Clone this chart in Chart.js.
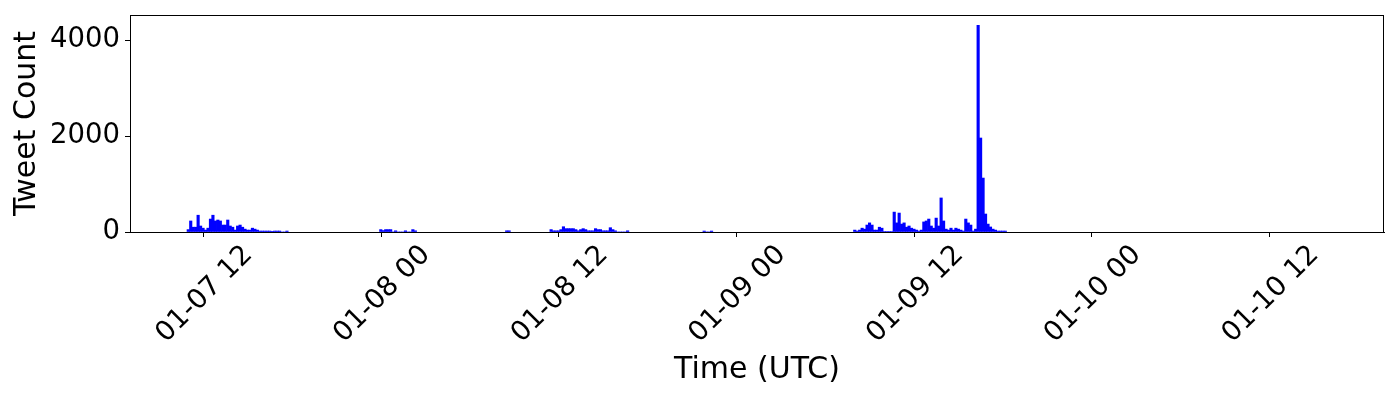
<!DOCTYPE html>
<html>
<head>
<meta charset="utf-8">
<script src="https://cdn.jsdelivr.net/npm/chart.js@4/dist/chart.umd.min.js"></script>
<style>
  body { margin: 0; background: #fff; }
  #wrap { width: 1400px; height: 400px; }
</style>
</head>
<body>
<div id="wrap"><canvas id="tweetChart"></canvas></div>
<script>
// hours are counted from 01-07 00:00 UTC, bins are 10 minutes wide
const firstBinHour = 10.9;
const binHours = 1 / 6;

// first bin index of each burst, and tweet counts per bin
const burstStarts = [0, 78, 129, 147, 209, 270];
const burstJan07 = [50, 230, 100, 100, 350, 125, 80, 40, 80, 270, 350, 230, 250, 230, 145, 145, 250, 125, 100, 40,
                    125, 145, 100, 60, 40, 40, 80, 60, 40, 20, 20, 20, 20, 20, 5, 20, 20, 20, 0, 0, 20];
const burstJan08Night = [50, 30, 50, 50, 50, 0, 25, 0, 0, 0, 25, 0, 0, 50, 25];
const burstJan08Morning = [25, 25];
const burstJan08Noon = [50, 25, 25, 25, 50, 110, 70, 70, 70, 70, 50, 25, 50, 70, 50, 25, 25, 25, 70, 50,
                        50, 25, 25, 25, 90, 50, 25, 0, 0, 0, 0, 25];
const burstJan08Late = [20, 0, 0, 20];
const burstJan09 = [40, 20, 40, 80, 60, 145, 190, 145, 40, 40, 100, 80, 10, 10, 10, 10, 415, 190, 395, 165,
                    190, 100, 125, 80, 60, 40, 20, 40, 210, 230, 270, 125, 80, 290, 125, 710, 230, 60, 40, 80,
                    40, 80, 60, 40, 20, 270, 190, 145, 20, 60, 4310, 1960, 1125, 375, 165, 105, 60, 40, 20, 20,
                    20, 20];
const bursts = [burstJan07, burstJan08Night, burstJan08Morning, burstJan08Noon, burstJan08Late, burstJan09];

const tickHours = [12, 24, 36, 48, 60, 72, 84];
const tickLabels = ["01-07 12", "01-08 00", "01-08 12", "01-09 00", "01-09 12", "01-10 00", "01-10 12"];
const countTicks = [0, 2000, 4000];

const points = [];
bursts.forEach((counts, b) => {
    counts.forEach((c, i) => {
        const bin = burstStarts[b] + i;
        points.push({ x: firstBinHour + (bin + 0.5) * binHours, y: c });
    });
});

const frame = {
    id: "frame",
    afterDatasetsDraw(chart) {
        const a = chart.chartArea;
        const ctx = chart.ctx;
        ctx.save();
        ctx.strokeStyle = "#000";
        ctx.lineWidth = 1;
        ctx.strokeRect(a.left + 0.5, a.top + 0.5, a.right - a.left - 1, a.bottom - a.top);
        ctx.restore();
    }
};

Chart.defaults.font.family = "'DejaVu Sans', sans-serif";
Chart.defaults.color = "#000";

new Chart(document.getElementById("tweetChart"), {
    type: "bar",
    data: {
        datasets: [{
            data: points,
            backgroundColor: "#0000ff",
            borderWidth: 0,
            barPercentage: 1,
            categoryPercentage: 1
        }]
    },
    options: {
        responsive: true,
        maintainAspectRatio: false,
        animation: false,
        layout: { padding: { top: 15, right: 16, left: 0, bottom: 0 } },
        plugins: { legend: { display: false }, tooltip: { enabled: false } },
        scales: {
            x: {
                type: "linear",
                offset: false,
                min: 7.05,
                max: 91.72,
                afterBuildTicks: s => { s.ticks = tickHours.map(v => ({ value: v })); },
                afterFit: s => { s.height = 168; s.paddingLeft = 0; s.paddingRight = 0; },
                grid: { drawOnChartArea: false, offset: false, tickLength: 5, color: "#000" },
                border: { color: "#000", width: 1 },
                ticks: {
                    autoSkip: false,
                    minRotation: 45,
                    maxRotation: 45,
                    labelOffset: 45,
                    padding: 2,
                    font: { size: 27.5 },
                    callback: (v, i) => tickLabels[i]
                },
                title: { display: true, text: "Time (UTC)", font: { size: 30 }, padding: { top: 0, bottom: 12 } }
            },
            y: {
                min: 0,
                max: 4525,
                afterBuildTicks: s => { s.ticks = countTicks.map(v => ({ value: v })); },
                afterFit: s => { s.width = 130; s.paddingTop = 0; s.paddingBottom = 0; },
                grid: { drawOnChartArea: false, tickLength: 5, color: "#000" },
                border: { color: "#000", width: 1 },
                ticks: { padding: 5, font: { size: 27.5 }, callback: v => String(v) },
                title: { display: true, text: "Tweet Count", font: { size: 30 }, padding: { top: 9, bottom: 0 } }
            }
        }
    },
    plugins: [frame]
});
</script>
</body>
</html>
